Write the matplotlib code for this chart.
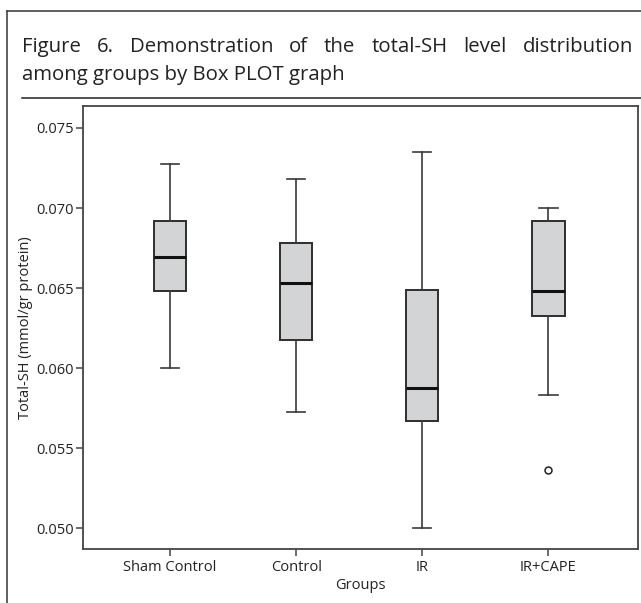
import matplotlib
matplotlib.use("Agg")
import matplotlib.pyplot as plt
from matplotlib.lines import Line2D

plt.rcParams['font.family'] = ['Open Sans', 'DejaVu Sans']

groups = ['Sham Control', 'Control', 'IR', 'IR+CAPE']
whislo = [0.0600, 0.05725, 0.0500, 0.05833]
q1 = [0.06483, 0.06173, 0.05671, 0.06325]
med = [0.06696, 0.06533, 0.05875, 0.06485]
q3 = [0.06921, 0.06783, 0.06488, 0.06917]
whishi = [0.07273, 0.07179, 0.0735, 0.0700]
fliers = [[], [], [], [0.05363]]

title1 = "Figure 6. Demonstration of the total-SH level distribution"
title2 = "among groups by Box PLOT graph"

W, H = 641, 603
fig = plt.figure(figsize=(W / 100, H / 100), dpi=100)
ax = fig.add_axes([83 / W, 1 - 549 / H, (638 - 83) / W, (549 - 106) / H])

stats = []
for i in range(len(groups)):
    stats.append(dict(label=groups[i], whislo=whislo[i], q1=q1[i], med=med[i],
                      q3=q3[i], whishi=whishi[i], fliers=fliers[i]))

edge = '#3a3a3a'
ax.bxp(stats, positions=range(1, 5), widths=0.255, patch_artist=True,
       boxprops=dict(facecolor='#d3d4d6', edgecolor='#2e2e2e', linewidth=1.4),
       medianprops=dict(color='#111111', linewidth=2.2),
       whiskerprops=dict(color=edge, linewidth=1.2),
       capprops=dict(color=edge, linewidth=1.2),
       capwidths=0.145,
       flierprops=dict(marker='o', markersize=5, markerfacecolor='white',
                       markeredgecolor='#222222', markeredgewidth=1.1))

ax.set_xlim(0.31, 4.71)
ax.set_ylim(0.04871, 0.07637)
ax.set_yticks([0.050, 0.055, 0.060, 0.065, 0.070, 0.075])
ax.set_yticklabels(['0.050', '0.055', '0.060', '0.065', '0.070', '0.075'])
ax.set_xticks(range(1, 5))
ax.set_xticklabels(groups)
for s in ax.spines.values():
    s.set_color('#444444')
    s.set_linewidth(1.3)
ax.tick_params(direction='out', length=5, width=1.1, color='#444444',
               labelsize=10.5, pad=1.5, labelcolor='#222222')
ax.tick_params(axis='x', pad=3)
ax.set_ylabel('Total-SH (mmol/gr protein)', fontsize=10.5, color='#222222', labelpad=2)
ax.set_xlabel('Groups', fontsize=10.5, color='#222222', labelpad=2)

# outer frame and title rule
fig.add_artist(Line2D([7 / W, 7 / W], [0, 1 - 11 / H], color='#444444', lw=1.2))
fig.add_artist(Line2D([7 / W, 1], [1 - 11 / H, 1 - 11 / H], color='#444444', lw=1.2))
fig.add_artist(Line2D([22 / W, 1], [1 - 98 / H, 1 - 98 / H], color='#222222', lw=1.1))

# justified first title line
tsize = 14.7
words = title1.split()
texts = [fig.text(0, 1 - 52 / H, w, fontsize=tsize, va='baseline', color='#222222')
         for w in words]
fig.canvas.draw()
r = fig.canvas.get_renderer()
widths = [t.get_window_extent(r).width for t in texts]
x0, x1 = 22, 633
gap = (x1 - x0 - sum(widths)) / (len(words) - 1)
x = x0
for t, w in zip(texts, widths):
    t.set_x(x / W)
    x += w + gap
fig.text(22 / W, 1 - 80 / H, title2, fontsize=tsize, va='baseline', color='#222222')

fig.savefig('out.png', dpi=100)
